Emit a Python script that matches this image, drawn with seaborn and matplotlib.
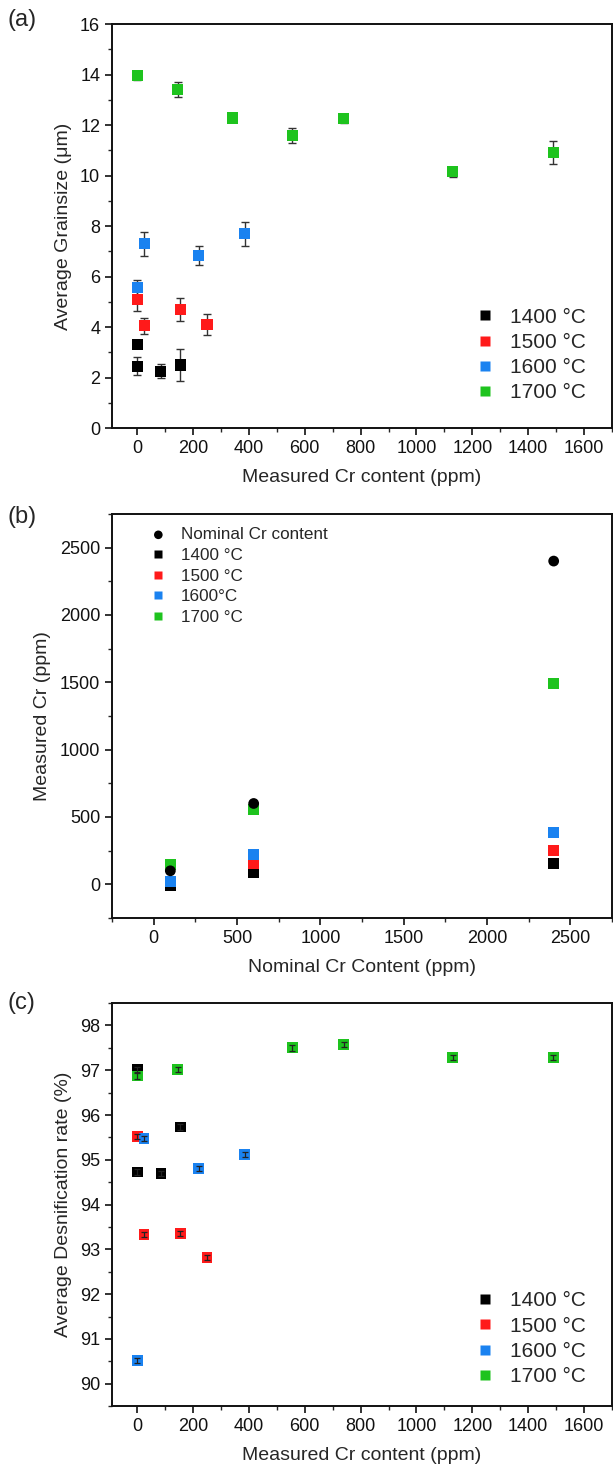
import numpy as np
import pandas as pd
import matplotlib
matplotlib.use("Agg")
import matplotlib.pyplot as plt
import seaborn as sns
from matplotlib.ticker import MultipleLocator

sns.set_style("ticks")
plt.rcParams['font.family'] = ['Liberation Sans', 'DejaVu Sans']

temps = ["1400 °C", "1500 °C", "1600 °C", "1700 °C"]
colors = ["#000000", "#ff1a1a", "#1a82f0", "#1ec31e"]

# ---- Panel (a): grain size vs measured Cr ----
a_cr_1400 = [0, 0, 85, 155]
a_gs_1400 = [3.3, 2.45, 2.25, 2.5]
a_err_1400 = [0.1, 0.35, 0.28, 0.62]
a_cr_1500 = [0, 25, 155, 250]
a_gs_1500 = [5.1, 4.05, 4.7, 4.1]
a_err_1500 = [0.48, 0.32, 0.45, 0.42]
a_cr_1600 = [0, 25, 220, 385]
a_gs_1600 = [5.57, 7.3, 6.82, 7.7]
a_err_1600 = [0.3, 0.48, 0.38, 0.47]
a_cr_1700 = [0, 145, 340, 555, 740, 1130, 1490]
a_gs_1700 = [13.95, 13.4, 12.28, 11.6, 12.25, 10.15, 10.92]
a_err_1700 = [0.18, 0.3, 0.1, 0.3, 0.15, 0.2, 0.45]

# ---- Panel (b): measured vs nominal Cr ----
b_nominal = [100, 600, 2400]
b_nom_meas = [100, 600, 2400]
b_meas_1400 = [-10, 85, 155]
b_meas_1500 = [25, 155, 250]
b_meas_1600 = [20, 220, 385]
b_meas_1700 = [145, 555, 1490]
b_labels = ["1400 °C", "1500 °C", "1600°C", "1700 °C"]

# ---- Panel (c): densification vs measured Cr ----
c_cr_1400 = [0, 0, 85, 155]
c_d_1400 = [97.02, 94.73, 94.7, 95.73]
c_cr_1500 = [0, 25, 155, 250]
c_d_1500 = [95.52, 93.33, 93.35, 92.82]
c_cr_1600 = [0, 25, 220, 385]
c_d_1600 = [90.52, 95.47, 94.8, 95.12]
c_cr_1700 = [0, 145, 555, 740, 1130, 1490]
c_d_1700 = [96.87, 97.02, 97.5, 97.58, 97.28, 97.28]
c_err = 0.06

fig = plt.figure(figsize=(6.13, 14.68), dpi=100)
axA = fig.add_axes([0.1827, 0.7084, 0.8157, 0.2752])
axB = fig.add_axes([0.1827, 0.3747, 0.8157, 0.2752])
axC = fig.add_axes([0.1827, 0.0422, 0.8157, 0.2745])

def style_axis(ax):
    for s in ax.spines.values():
        s.set_linewidth(1.4)
        s.set_color("#111111")
    ax.tick_params(which="major", direction="out", length=5, width=1.2,
                   labelsize=13, top=False, right=False, colors="#111111")
    ax.tick_params(which="minor", direction="out", length=3, width=1.0,
                   top=False, right=False)

# Panel (a)
dfa = pd.concat([
    pd.DataFrame({"cr": a_cr_1400, "v": a_gs_1400, "e": a_err_1400, "T": temps[0]}),
    pd.DataFrame({"cr": a_cr_1500, "v": a_gs_1500, "e": a_err_1500, "T": temps[1]}),
    pd.DataFrame({"cr": a_cr_1600, "v": a_gs_1600, "e": a_err_1600, "T": temps[2]}),
    pd.DataFrame({"cr": a_cr_1700, "v": a_gs_1700, "e": a_err_1700, "T": temps[3]}),
], ignore_index=True)
axA.errorbar(dfa["cr"], dfa["v"], yerr=dfa["e"], fmt="none", ecolor="#333333",
             elinewidth=1.0, capsize=3, capthick=1.0, zorder=2)
sns.scatterplot(data=dfa, x="cr", y="v", hue="T", hue_order=temps,
                palette=colors, marker="s", s=65, edgecolor="none",
                ax=axA, zorder=3)
axA.set_xlim(-90, 1700)
axA.set_ylim(0, 16)
axA.xaxis.set_major_locator(MultipleLocator(200))
axA.xaxis.set_minor_locator(MultipleLocator(100))
axA.yaxis.set_major_locator(MultipleLocator(2))
axA.yaxis.set_minor_locator(MultipleLocator(1))
axA.set_xlabel("Measured Cr content (ppm)", fontsize=14, labelpad=9)
axA.set_ylabel("Average Grainsize (μm)", fontsize=14, labelpad=6)
style_axis(axA)
axA.legend(loc="lower right", bbox_to_anchor=(0.985, 0.017), frameon=False,
           fontsize=15, markerscale=0.85, handletextpad=0.6,
           handlelength=1.2, labelspacing=0.3)

# Panel (b)
dfb = pd.concat([
    pd.DataFrame({"nom": b_nominal, "meas": b_meas_1400, "T": b_labels[0]}),
    pd.DataFrame({"nom": b_nominal, "meas": b_meas_1500, "T": b_labels[1]}),
    pd.DataFrame({"nom": b_nominal, "meas": b_meas_1600, "T": b_labels[2]}),
    pd.DataFrame({"nom": b_nominal, "meas": b_meas_1700, "T": b_labels[3]}),
], ignore_index=True)
dfn = pd.DataFrame({"nom": b_nominal, "meas": b_nom_meas,
                    "T": "Nominal Cr content"})
sns.scatterplot(data=dfb, x="nom", y="meas", hue="T", hue_order=b_labels,
                palette=colors, marker="s", s=60, edgecolor="none", ax=axB,
                zorder=3)
sns.scatterplot(data=dfn, x="nom", y="meas", color="black", marker="o", s=60,
                edgecolor="none", ax=axB, zorder=4, label="Nominal Cr content")
axB.set_xlim(-250, 2750)
axB.set_ylim(-250, 2750)
axB.xaxis.set_major_locator(MultipleLocator(500))
axB.xaxis.set_minor_locator(MultipleLocator(250))
axB.yaxis.set_major_locator(MultipleLocator(500))
axB.yaxis.set_minor_locator(MultipleLocator(250))
axB.set_xlabel("Nominal Cr Content (ppm)", fontsize=14, labelpad=9)
axB.set_ylabel("Measured Cr (ppm)", fontsize=14, labelpad=6)
style_axis(axB)
h, l = axB.get_legend_handles_labels()
order = [l.index("Nominal Cr content")] + [l.index(x) for x in b_labels]
axB.legend([h[i] for i in order], [l[i] for i in order], loc="upper left",
           bbox_to_anchor=(0.038, 1.005), frameon=False, fontsize=12.3,
           markerscale=0.8, handletextpad=0.6, handlelength=1.4,
           labelspacing=0.33)

# Panel (c)
dfc = pd.concat([
    pd.DataFrame({"cr": c_cr_1400, "v": c_d_1400, "T": temps[0]}),
    pd.DataFrame({"cr": c_cr_1500, "v": c_d_1500, "T": temps[1]}),
    pd.DataFrame({"cr": c_cr_1600, "v": c_d_1600, "T": temps[2]}),
    pd.DataFrame({"cr": c_cr_1700, "v": c_d_1700, "T": temps[3]}),
], ignore_index=True)
sns.scatterplot(data=dfc, x="cr", y="v", hue="T", hue_order=temps,
                palette=colors, marker="s", s=60, edgecolor="none",
                ax=axC, zorder=3)
axC.errorbar(dfc["cr"], dfc["v"], yerr=c_err, fmt="none", ecolor="#222222",
             elinewidth=0.9, capsize=2.5, capthick=0.9, zorder=4)
axC.set_xlim(-90, 1700)
axC.set_ylim(89.5, 98.5)
axC.xaxis.set_major_locator(MultipleLocator(200))
axC.xaxis.set_minor_locator(MultipleLocator(100))
axC.yaxis.set_major_locator(MultipleLocator(1))
axC.yaxis.set_minor_locator(MultipleLocator(0.5))
axC.set_xlabel("Measured Cr content (ppm)", fontsize=14, labelpad=9)
axC.set_ylabel("Average Desnification rate (%)", fontsize=14, labelpad=6)
style_axis(axC)
axC.legend(loc="lower right", bbox_to_anchor=(0.985, 0.003), frameon=False,
           fontsize=15, markerscale=0.85, handletextpad=0.6,
           handlelength=1.2, labelspacing=0.3)

fig.text(0.012, 1 - 20 / 1468, "(a)", fontsize=17, va="center", ha="left")
fig.text(0.012, 1 - 517 / 1468, "(b)", fontsize=17, va="center", ha="left")
fig.text(0.012, 1 - 1003 / 1468, "(c)", fontsize=17, va="center", ha="left")

fig.savefig("out.png", dpi=100)
